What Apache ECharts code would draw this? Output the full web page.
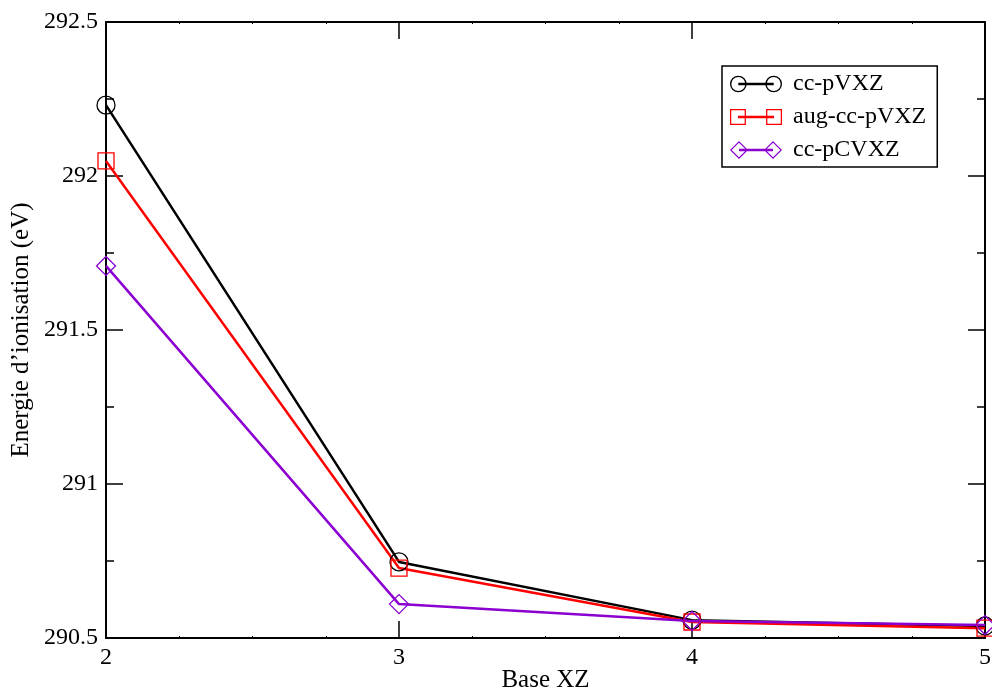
<!DOCTYPE html>
<html><head><meta charset="utf-8">
<script src="https://cdn.jsdelivr.net/npm/echarts@6/dist/echarts.min.js"></script>
<style>html,body{margin:0;padding:0;background:#fff}#c{width:992px;height:691px}</style>
</head><body><div id="c"></div>
<script>
const categories = [2, 3, 4, 5];
const ccpVXZ = [292.23, 290.747, 290.558, 290.539];
const augccpVXZ = [292.049, 290.727, 290.552, 290.532];
const ccpCVXZ = [291.708, 290.61, 290.555, 290.542];
const seriesNames = ['cc-pVXZ', 'aug-cc-pVXZ', 'cc-pCVXZ'];
const colors = ['#000000', '#ff0000', '#8b00d0'];

const font = 'Liberation Serif';
const chart = echarts.init(document.getElementById('c'));
const pair = a => a.map((v, i) => [categories[i], v]);
const diamond = 'path://M0,-1L1,0L0,1L-1,0Z';
const symbols = ['circle', 'rect', diamond];
const sizes = [18, 16, 19];
const datas = [ccpVXZ, augccpVXZ, ccpCVXZ];

// legend icons: two hollow markers joined by a line (in a 52x18 box)
const ring = (cx) => `M${cx-8},9A8,8 0 1,1 ${cx+8},9A8,8 0 1,1 ${cx-8},9Z M${cx-6.7},9A6.7,6.7 0 1,0 ${cx+6.7},9A6.7,6.7 0 1,0 ${cx-6.7},9Z`;
const sq = (cx) => `M${cx-7.5},1.5L${cx+7.5},1.5L${cx+7.5},16.5L${cx-7.5},16.5Z M${cx-6.3},2.7L${cx-6.3},15.3L${cx+6.3},15.3L${cx+6.3},2.7Z`;
const dm = (cx) => `M${cx},0L${cx+9},9L${cx},18L${cx-9},9Z M${cx},1.7L${cx-7.3},9L${cx},16.3L${cx+7.3},9Z`;
const bar = 'M9,7.8L43,7.8L43,10.2L9,10.2Z';
const icons = [
  'path://' + ring(9) + ' ' + ring(43) + ' ' + bar,
  'path://' + sq(9) + ' ' + sq(43) + ' ' + bar,
  'path://' + dm(9) + ' ' + dm(43) + ' ' + bar
];

const axisLine = {show: true, onZero: false, lineStyle: {color: '#000', width: 2}};
const majorTick = {show: true, inside: true, length: 17, lineStyle: {color: '#000', width: 1.5}};
const xMinor = {show: true, splitNumber: 4, length: 2, lineStyle: {color: '#000', width: 1}};
const yMinor = {show: true, splitNumber: 2, length: 8, lineStyle: {color: '#000', width: 1.5}};

chart.setOption({
  animation: false,
  backgroundColor: '#fff',
  grid: {left: 106, right: 7, top: 22, bottom: 53, containLabel: false, outerBoundsMode: 'none'},
  legend: {
    orient: 'vertical', left: 722, top: 66,
    padding: [6, 11, 5, 8], itemGap: 9, itemWidth: 52, itemHeight: 18,
    borderColor: '#000', borderWidth: 1.5, backgroundColor: '#fff',
    textStyle: {fontFamily: font, fontSize: 24, lineHeight: 20, color: '#000', padding: [0, 0, 0, 6]},
    data: seriesNames.map((n, i) => ({name: n, icon: icons[i], itemStyle: {color: colors[i], borderWidth: 0}}))
  },
  xAxis: [
    {type: 'value', min: 2, max: 5, interval: 1, position: 'bottom',
      name: 'Base XZ', nameLocation: 'middle', nameGap: 30, nameMoveOverlap: false,
      nameTextStyle: {fontFamily: font, fontSize: 25, color: '#000'},
      axisLabel: {fontFamily: font, fontSize: 24, color: '#000', margin: 8},
      axisLine, axisTick: majorTick, minorTick: xMinor, splitLine: {show: false}},
    {type: 'value', min: 2, max: 5, interval: 1, position: 'top',
      axisLabel: {show: false},
      axisLine, axisTick: majorTick, minorTick: xMinor, splitLine: {show: false}}
  ],
  yAxis: [
    {type: 'value', min: 290.5, max: 292.5, interval: 0.5, position: 'left',
      name: 'Energie d’ionisation (eV)', nameLocation: 'middle', nameGap: 72, nameMoveOverlap: false,
      nameTextStyle: {fontFamily: font, fontSize: 25, color: '#000'},
      axisLabel: {fontFamily: font, fontSize: 24, color: '#000', margin: 8},
      axisLine, axisTick: majorTick, minorTick: yMinor, splitLine: {show: false}},
    {type: 'value', min: 290.5, max: 292.5, interval: 0.5, position: 'right',
      axisLabel: {show: false},
      axisLine, axisTick: majorTick, minorTick: yMinor, splitLine: {show: false}}
  ],
  series: seriesNames.map((n, i) => ({
    name: n, type: 'line', data: pair(datas[i]),
    symbol: symbols[i], symbolSize: sizes[i], showAllSymbol: true,
    lineStyle: {color: colors[i], width: 2.5},
    itemStyle: {color: 'rgba(0,0,0,0)', borderColor: colors[i], borderWidth: 1.3},
    emphasis: {disabled: true}
  }))
});
</script></body></html>
